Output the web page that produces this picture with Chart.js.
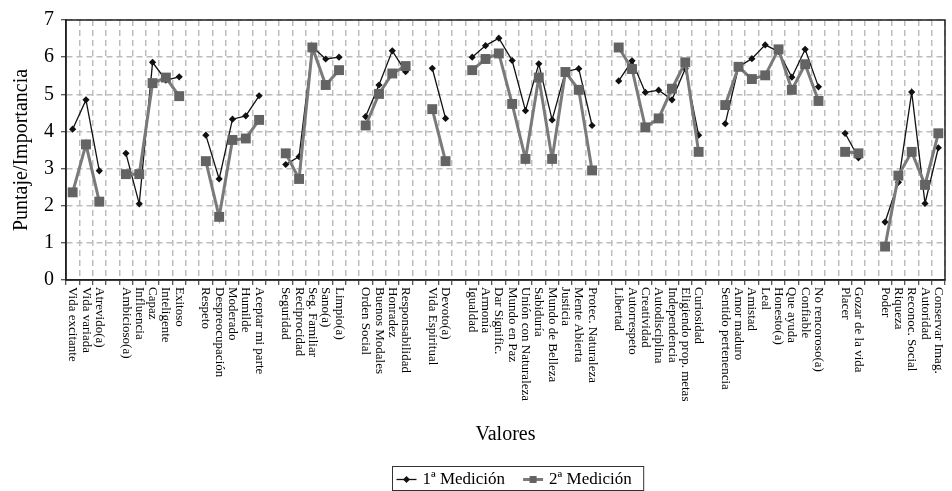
<!DOCTYPE html>
<html>
<head>
<meta charset="utf-8">
<script src="https://cdn.jsdelivr.net/npm/chart.js@4/dist/chart.umd.min.js"></script>
<style>
  body { margin: 0; background: #fff; }
  #wrap { width: 952px; height: 491px; position: relative; }
</style>
</head>
<body>
<div id="wrap"><canvas id="chart"></canvas></div>
<script>
// --- Data (gaps between value groups are null) ---
const valores = [
  "Vida excitante", "Vida variada", "Atrevido(a)", "",
  "Ambicioso(a)", "Influencia", "Capaz", "Inteligente", "Exitoso", "",
  "Respeto", "Despreocupación", "Moderado", "Humilde", "Aceptar mi parte", "",
  "Seguridad", "Reciprocidad", "Seg. Familiar", "Sano(a)", "Limpio(a)", "",
  "Orden Social", "Buenos Modales", "Honradez", "Responsabilidad", "",
  "Vida Espiritual", "Devoto(a)", "",
  "Igualdad", "Armonía", "Dar Signific.", "Mundo en Paz", "Unión con Naturaleza",
  "Sabiduría", "Mundo de Belleza", "Justicia", "Mente Abierta", "Protec. Naturaleza", "",
  "Libertad", "Autorrespeto", "Creatividad", "Autodisciplina", "Independencia",
  "Eligiendo prop. metas", "Curiosidad", "",
  "Sentido pertenencia", "Amor maduro", "Amistad", "Leal", "Honesto(a)", "Que ayuda",
  "Confiable", "No rencoroso(a)", "",
  "Placer", "Gozar de la vida", "",
  "Poder", "Riqueza", "Reconoc. Social", "Autoridad", "Conservar Imag."
];

const medicion1 = [
  4.06, 4.85, 2.94, null,
  3.41, 2.05, 5.86, 5.38, 5.47, null,
  3.90, 2.72, 4.33, 4.42, 4.96, null,
  3.11, 3.32, 6.28, 5.95, 6.00, null,
  4.40, 5.25, 6.17, 5.61, null,
  5.70, 4.35, null,
  6.00, 6.31, 6.51, 5.91, 4.56, 5.82, 4.31, 5.61, 5.69, 4.16, null,
  5.36, 5.90, 5.05, 5.11, 4.85, 5.69, 3.90, null,
  4.21, 5.74, 5.96, 6.33, 6.15, 5.46, 6.21, 5.20, null,
  3.95, 3.29, null,
  1.56, 2.63, 5.06, 2.06, 3.56
];

const medicion2 = [
  2.36, 3.65, 2.11, null,
  2.85, 2.85, 5.30, 5.45, 4.95, null,
  3.20, 1.70, 3.77, 3.81, 4.31, null,
  3.41, 2.72, 6.26, 5.25, 5.65, null,
  4.16, 5.01, 5.56, 5.76, null,
  4.60, 3.20, null,
  5.65, 5.95, 6.10, 4.74, 3.26, 5.45, 3.26, 5.60, 5.12, 2.95, null,
  6.26, 5.68, 4.11, 4.35, 5.15, 5.86, 3.45, null,
  4.71, 5.74, 5.41, 5.51, 6.21, 5.12, 5.81, 4.82, null,
  3.45, 3.41, null,
  0.90, 2.81, 3.45, 2.56, 3.95
];

const serieNames = ["1ª Medición", "2ª Medición"];
const yTitle = "Puntaje/Importancia";
const xTitle = "Valores";

const SERIF = "'Liberation Serif', 'DejaVu Serif', serif";

// --- Plugins: frame, rotated category labels, x title and boxed legend ---
const framePlugin = {
  id: "frame",
  afterDatasetsDraw(chart) {
    const { ctx, chartArea: a } = chart;
    ctx.save();
    ctx.strokeStyle = "#222";
    ctx.lineWidth = 1.5;
    ctx.strokeRect(a.left, a.top, a.right - a.left, a.bottom - a.top);
    ctx.restore();
  }
};

const labelsPlugin = {
  id: "rotatedLabels",
  afterDraw(chart) {
    const { ctx, chartArea: a } = chart;
    const xs = chart.scales.x;
    ctx.save();
    ctx.fillStyle = "#000";
    ctx.font = "13px " + SERIF;
    ctx.textAlign = "left";
    ctx.textBaseline = "middle";
    valores.forEach((lab, i) => {
      if (!lab) return;
      const x = xs.getPixelForValue(i);
      ctx.save();
      ctx.translate(x, a.bottom + 7);
      ctx.rotate(Math.PI / 2);
      ctx.fillText(lab, 0, 0);
      ctx.restore();
    });

    // axis title
    ctx.font = "20px " + SERIF;
    ctx.textAlign = "center";
    ctx.fillText(xTitle, (a.left + a.right) / 2, 435);

    // legend box
    ctx.font = "17px " + SERIF;
    ctx.textAlign = "left";
    const sample = 20, gapA = 6, gapB = 18, pad = 4, endPad = 12;
    const n = chart.data.datasets.length;
    let w = pad;
    chart.data.datasets.forEach((ds, k) => {
      w += sample + gapA + ctx.measureText(ds.label).width + (k < n - 1 ? gapB : endPad);
    });
    const bx = 392.5, by = 466.5, bh = 24;
    ctx.strokeStyle = "#333";
    ctx.lineWidth = 1;
    ctx.strokeRect(bx, by, w, bh);
    let cx = bx + pad;
    const cy = by + bh / 2 + 1;
    chart.data.datasets.forEach((ds) => {
      ctx.strokeStyle = ds.borderColor;
      ctx.lineWidth = ds.borderWidth;
      ctx.beginPath();
      ctx.moveTo(cx, cy);
      ctx.lineTo(cx + sample, cy);
      ctx.stroke();
      const mx = cx + sample / 2;
      ctx.fillStyle = ds.pointBackgroundColor;
      ctx.beginPath();
      if (ds.pointStyle === "rectRot") {
        ctx.moveTo(mx, cy - 3.5); ctx.lineTo(mx + 3.5, cy);
        ctx.lineTo(mx, cy + 3.5); ctx.lineTo(mx - 3.5, cy);
      } else {
        ctx.rect(mx - 3.5, cy - 3.5, 7, 7);
      }
      ctx.closePath();
      ctx.fill();
      cx += sample + gapA;
      ctx.fillStyle = "#000";
      ctx.fillText(ds.label, cx, cy);
      cx += ctx.measureText(ds.label).width + gapB;
    });
    ctx.restore();
  }
};

new Chart(document.getElementById("chart"), {
  type: "line",
  data: {
    labels: valores,
    datasets: [
      {
        label: serieNames[0],
        data: medicion1,
        borderColor: "#111",
        borderWidth: 1.3,
        pointStyle: "rectRot",
        pointRadius: 3.6,
        pointBackgroundColor: "#111",
        pointBorderColor: "#111",
        pointBorderWidth: 0,
        spanGaps: false,
        tension: 0,
        order: 1
      },
      {
        label: serieNames[1],
        data: medicion2,
        borderColor: "#7a7a7a",
        borderWidth: 3,
        pointStyle: "rect",
        pointRadius: 7,
        pointBackgroundColor: "#636363",
        pointBorderColor: "#636363",
        pointBorderWidth: 0,
        spanGaps: false,
        tension: 0,
        order: 0
      }
    ]
  },
  options: {
    responsive: true,
    maintainAspectRatio: false,
    animation: false,
    layout: { padding: { top: 20, right: 2, left: 0, bottom: 0 } },
    plugins: {
      legend: { display: false },
      tooltip: { enabled: false }
    },
    scales: {
      x: {
        offset: true,
        grid: {
          offset: true,
          color: "#bdbdbd",
          lineWidth: 1.5,
          tickColor: "#222",
          tickLength: 5,
          tickWidth: 1
        },
        border: { color: "#222", width: 1.5, dash: [6, 4] },
        ticks: { display: false },
        afterFit(scale) { scale.height = 211; }
      },
      y: {
        min: 0,
        max: 7,
        ticks: {
          stepSize: 1,
          color: "#000",
          padding: 7,
          font: { family: SERIF, size: 20 }
        },
        grid: {
          color: "#bdbdbd",
          lineWidth: 1.5,
          tickColor: "#222",
          tickLength: 5,
          tickWidth: 1
        },
        border: { color: "#222", width: 1.5, dash: [6, 4] },
        title: {
          display: true,
          text: yTitle,
          color: "#000",
          font: { family: SERIF, size: 20 },
          padding: { top: 10, bottom: 0 }
        },
        afterFit(scale) { scale.width = 66; }
      }
    }
  },
  plugins: [framePlugin, labelsPlugin]
});
</script>
</body>
</html>
